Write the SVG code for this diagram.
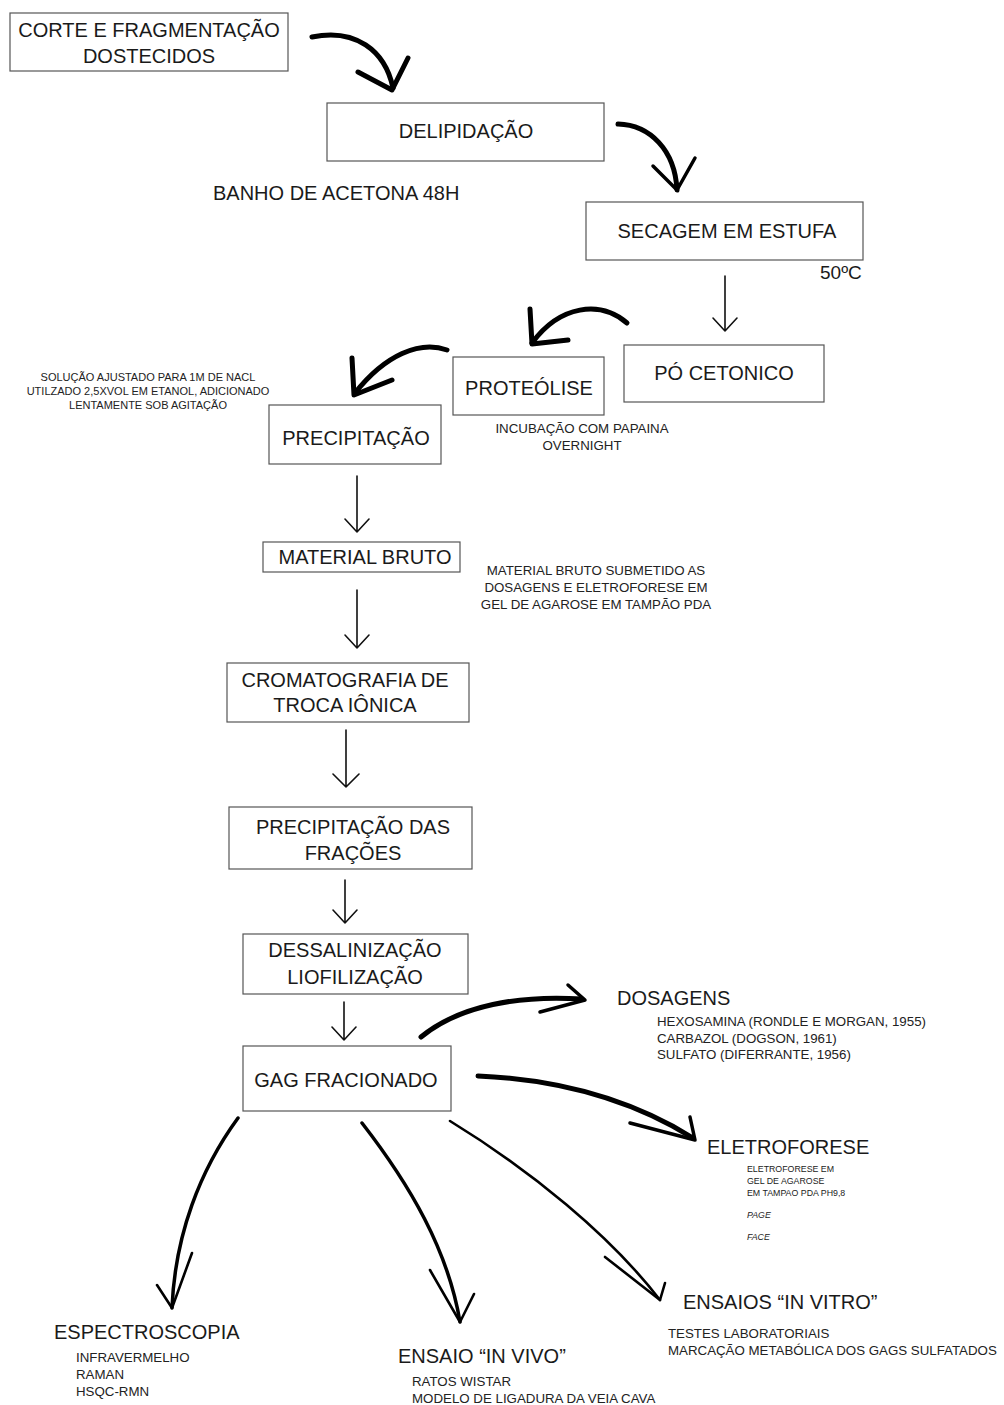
<svg xmlns="http://www.w3.org/2000/svg" width="1004" height="1405" viewBox="0 0 1004 1405">
<style>
.box{fill:#fff;stroke:#555;stroke-width:1.2}
.t{font-family:"Liberation Sans",Arial,sans-serif;font-size:20px;fill:#1a1a1a}
.c{text-anchor:middle}
.s{font-family:"Liberation Sans",Arial,sans-serif;font-size:13.3px;fill:#222}
.xs{font-family:"Liberation Sans",Arial,sans-serif;font-size:11px;fill:#222}
.xxs{font-family:"Liberation Sans",Arial,sans-serif;font-size:8.8px;fill:#222}
.thin{fill:none;stroke:#111;stroke-width:1.6;stroke-linecap:round;stroke-linejoin:round}
.brush{fill:none;stroke:#000;stroke-width:5;stroke-linecap:round;stroke-linejoin:round}
.mid{fill:none;stroke:#000;stroke-width:3.5;stroke-linecap:round;stroke-linejoin:round}
.lt{fill:none;stroke:#000;stroke-width:2.6;stroke-linecap:round;stroke-linejoin:round}
</style>
<rect width="1004" height="1405" fill="#fff"/>
<g id="connectors">
<path class="brush" d="M312,37 C355,28 385,50 393,88"/>
<path class="brush" d="M358,72 L392,90 L408,58"/>
<path class="brush" d="M618,124 C650,125 675,150 677,190"/>
<path class="mid" d="M653,166 L677,190 L695,158"/>
<path class="thin" d="M725,276 L725,331 M713,318 L725,331 L737,318"/>
<path class="brush" d="M627,323 C600,300 560,305 532,343"/>
<path class="brush" d="M530,309 L532,344 L568,340"/>
<path class="brush" d="M447,350 C420,340 385,355 355,393"/>
<path class="brush" d="M352,358 L354,395 L392,380"/>
<path class="thin" d="M357,476 L357,532 M345,519 L357,532 L369,519"/>
<path class="thin" d="M357,590 L357,648 M345,635 L357,648 L369,635"/>
<path class="thin" d="M346,730 L346,787 M333,774 L346,787 L359,774"/>
<path class="thin" d="M345,880 L345,923 M333,910 L345,923 L357,910"/>
<path class="thin" d="M344,1002 L344,1040 M332,1027 L344,1040 L356,1027"/>
<path class="brush" d="M421,1037 C460,1005 520,995 582,999"/>
<path class="mid" d="M568,985 L585,1000 L540,1012"/>
<path class="brush" d="M478,1076 C570,1080 640,1105 693,1138"/>
<path class="mid" d="M690,1117 L695,1140 L630,1123"/>
<path class="lt" d="M450,1121 C530,1170 610,1235 660,1300"/>
<path class="lt" d="M605,1257 L660,1300 L665,1283"/>
<path class="mid" d="M362,1123 C410,1185 448,1250 460,1322"/>
<path class="lt" d="M430,1270 L460,1322 L474,1294"/>
<path class="mid" d="M238,1118 C200,1170 175,1235 172,1308"/>
<path class="lt" d="M157,1285 L172,1308 L192,1253"/>
</g>
<g id="corte">
<rect class="box" x="10" y="13" width="278" height="58"/>
<text class="t c" x="149" y="37">CORTE E FRAGMENTAÇÃO</text>
<text class="t c" x="149" y="63">DOSTECIDOS</text>
</g>
<g id="delipidacao">
<rect class="box" x="327" y="103" width="277" height="58"/>
<text class="t c" x="466" y="138">DELIPIDAÇÃO</text>
</g>
<g id="banho">
<text class="t" x="213" y="200">BANHO DE ACETONA 48H</text>
</g>
<g id="secagem">
<rect class="box" x="586" y="202" width="277" height="58"/>
<text class="t c" x="727" y="238">SECAGEM EM ESTUFA</text>
<text class="t" x="820" y="279" style="font-size:19px">50ºC</text>
</g>
<g id="po-cetonico">
<rect class="box" x="624" y="345" width="200" height="57"/>
<text class="t c" x="724" y="380">PÓ CETONICO</text>
</g>
<g id="proteolise">
<rect class="box" x="453" y="357" width="151" height="58"/>
<text class="t c" x="529" y="395">PROTEÓLISE</text>
<text class="s c" x="582" y="433">INCUBAÇÃO COM PAPAINA</text>
<text class="s c" x="582" y="450">OVERNIGHT</text>
</g>
<g id="precipitacao">
<rect class="box" x="269" y="405" width="172" height="59"/>
<text class="t c" x="356" y="445">PRECIPITAÇÃO</text>
<text class="xs c" x="148" y="381">SOLUÇÃO AJUSTADO PARA 1M DE NACL</text>
<text class="xs c" x="148" y="395">UTILZADO 2,5XVOL EM ETANOL, ADICIONADO</text>
<text class="xs c" x="148" y="409">LENTAMENTE SOB AGITAÇÃO</text>
</g>
<g id="material-bruto">
<rect class="box" x="263" y="542" width="197" height="30"/>
<text class="t c" x="365" y="564">MATERIAL BRUTO</text>
<text class="s c" x="596" y="575">MATERIAL BRUTO SUBMETIDO AS</text>
<text class="s c" x="596" y="592">DOSAGENS E ELETROFORESE EM</text>
<text class="s c" x="596" y="609">GEL DE AGAROSE EM TAMPÃO PDA</text>
</g>
<g id="cromatografia">
<rect class="box" x="227" y="663" width="242" height="59"/>
<text class="t c" x="345" y="687">CROMATOGRAFIA DE</text>
<text class="t c" x="345" y="712">TROCA IÔNICA</text>
</g>
<g id="precipitacao-fracoes">
<rect class="box" x="229" y="807" width="243" height="62"/>
<text class="t c" x="353" y="834">PRECIPITAÇÃO DAS</text>
<text class="t c" x="353" y="860">FRAÇÕES</text>
</g>
<g id="dessalinizacao">
<rect class="box" x="243" y="934" width="225" height="60"/>
<text class="t c" x="355" y="957">DESSALINIZAÇÃO</text>
<text class="t c" x="355" y="984">LIOFILIZAÇÃO</text>
</g>
<g id="gag">
<rect class="box" x="243" y="1046" width="208" height="65"/>
<text class="t c" x="346" y="1087">GAG FRACIONADO</text>
</g>
<g id="dosagens">
<text class="t" x="617" y="1005">DOSAGENS</text>
<text class="s" x="657" y="1026">HEXOSAMINA (RONDLE E MORGAN, 1955)</text>
<text class="s" x="657" y="1043">CARBAZOL (DOGSON, 1961)</text>
<text class="s" x="657" y="1059">SULFATO (DIFERRANTE, 1956)</text>
</g>
<g id="eletroforese">
<text class="t" x="707" y="1154">ELETROFORESE</text>
<text class="xxs" x="747" y="1172">ELETROFORESE EM</text>
<text class="xxs" x="747" y="1184">GEL DE AGAROSE</text>
<text class="xxs" x="747" y="1196">EM TAMPAO PDA PH9,8</text>
<text class="xxs" x="747" y="1218" font-style="italic">PAGE</text>
<text class="xxs" x="747" y="1240" font-style="italic">FACE</text>
</g>
<g id="in-vitro">
<text class="t" x="683" y="1309">ENSAIOS “IN VITRO”</text>
<text class="s" x="668" y="1338">TESTES LABORATORIAIS</text>
<text class="s" x="668" y="1355">MARCAÇÃO METABÓLICA DOS GAGS SULFATADOS</text>
</g>
<g id="espectroscopia">
<text class="t" x="54" y="1339">ESPECTROSCOPIA</text>
<text class="s" x="76" y="1362">INFRAVERMELHO</text>
<text class="s" x="76" y="1379">RAMAN</text>
<text class="s" x="76" y="1396">HSQC-RMN</text>
</g>
<g id="in-vivo">
<text class="t" x="398" y="1363">ENSAIO “IN VIVO”</text>
<text class="s" x="412" y="1386">RATOS WISTAR</text>
<text class="s" x="412" y="1403">MODELO DE LIGADURA DA VEIA CAVA</text>
</g>
</svg>
